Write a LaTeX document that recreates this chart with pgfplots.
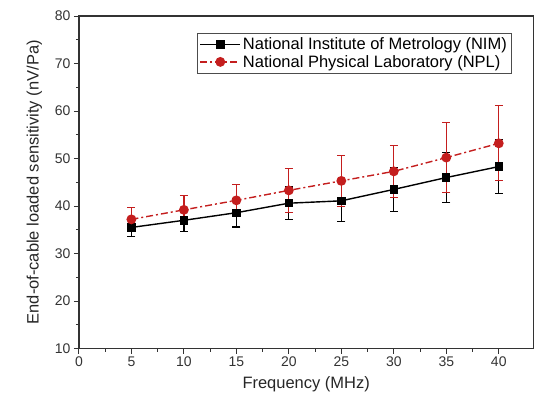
\documentclass[border=0pt]{standalone}
\usepackage{pgfplots}
\pgfplotsset{compat=1.18}
\usepackage{fontspec}
\setmainfont{Liberation Sans}
\definecolor{nplred}{RGB}{196,30,30}
\begin{document}
\begin{tikzpicture}[x=1pt,y=1pt]
\begin{axis}[
  at={(0,0)}, anchor=south west,
  scale only axis, width=455pt, height=333pt,
  xmin=0, xmax=43.3, ymin=10, ymax=80,
  xtick={0,5,...,40}, ytick={10,20,...,80},
  minor x tick num=1, minor y tick num=1,
  xtick pos=bottom, ytick pos=left,
  tick align=outside,
  major tick length=5pt, minor tick length=3pt,
  axis line style={line width=1.2pt, draw=black!80},
  every tick/.style={line width=0.9pt, black!80},
  /pgf/number format/assume math mode=true,
  ticklabel style={font=\fontsize{14}{16}\selectfont, text=black!80},
  label style={font=\fontsize{16.5}{19}\selectfont, text=black!85},
  xlabel={Frequency (MHz)},
  xlabel style={yshift=-3pt},
  ylabel={End-of-cable loaded sensitivity (nV/Pa)},
  ylabel style={yshift=6pt},
  legend style={at={(0.952,0.949)}, anchor=north east, draw=black!70, line width=0.6pt,
    font=\fontsize{16.5}{19}\selectfont, row sep=0pt, inner sep=2.5pt},
  legend cell align=left,
  legend image code/.code={\draw[mark repeat=2,mark phase=2] plot coordinates {(0pt,0pt)(20pt,0pt)(40pt,0pt)};},
  clip=false,
]
\addplot[black, line width=1.4pt, mark=square*, mark size=3.5pt,
  error bars/.cd, y dir=both, y explicit, error mark options={rotate=90, mark size=4pt, line width=1.1pt},
  error bar style={line width=1.3pt}]
  table[x=x, y=y, y error=e] {
x y e
5 35.5 1.9
10 37.0 2.3
15 38.6 3.0
20 40.6 3.4
25 41.1 4.3
30 43.5 4.7
35 46.0 5.2
40 48.3 5.7
};
\addlegendentry{National Institute of Metrology (NIM)}
\addplot[nplred, line width=1.4pt, dash pattern=on 7pt off 3pt on 2pt off 3pt, mark=*, mark size=4.2pt, mark options={solid},
  error bars/.cd, y dir=both, y explicit, error mark options={rotate=90, mark size=4pt, line width=1.1pt, nplred},
  error bar style={line width=1.3pt, solid, nplred}]
  table[x=x, y=y, y error=e] {
x y e
5 37.2 2.5
10 39.2 3.1
15 41.2 3.4
20 43.3 4.6
25 45.3 5.3
30 47.3 5.5
35 50.2 7.4
40 53.2 7.9
};
\addlegendentry{National Physical Laboratory (NPL)}
\end{axis}
\useasboundingbox (-79,-49) rectangle (455,349);
\end{tikzpicture}
\end{document}
